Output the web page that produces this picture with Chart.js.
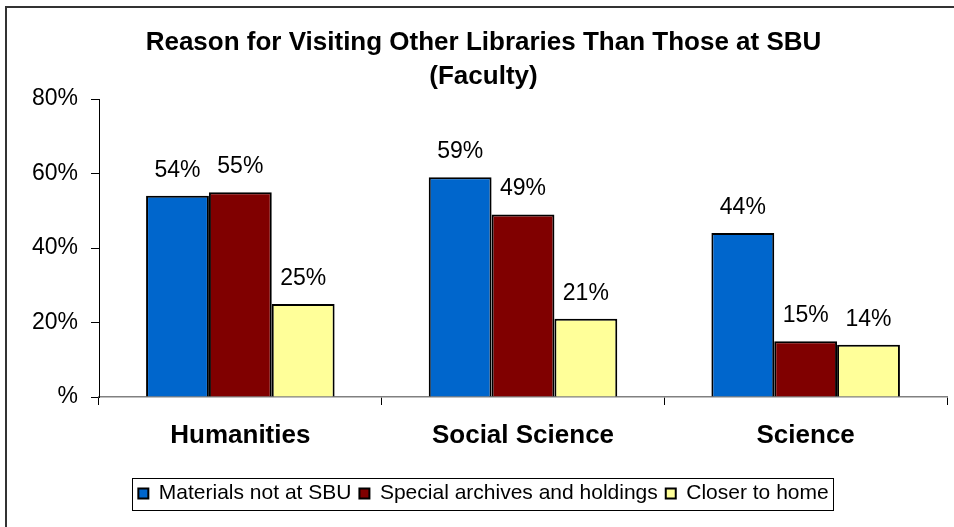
<!DOCTYPE html>
<html lang="en">

<head>
    <meta charset="UTF-8">
    <title>Reason for Visiting Other Libraries</title>
    <script src="https://cdn.jsdelivr.net/npm/chart.js"></script>
    <style>
        html, body { margin: 0; padding: 0; background: #fff; }
        #grafico { width: 954px; height: 527px; }
    </style>
</head>

<body>
    <div id="grafico">
        <canvas id="graficoMotivos"></canvas>
    </div>
</body>

</html>

<script>
    const categorias = ['Humanities', 'Social Science', 'Science'];
    const materiais = [54, 59, 44];
    const arquivos = [55, 49, 15];
    const perto = [25, 21, 14];
    const ticksY = [0, 20, 40, 60, 80];

    const fonte = 'Arial, "Liberation Sans"';

    // percentual acima de cada barra
    const rotulos = {
        id: 'rotulos',
        afterDatasetsDraw(chart) {
            const ctx = chart.ctx;
            ctx.save();
            ctx.font = '23px ' + fonte;
            ctx.fillStyle = '#000';
            ctx.textAlign = 'center';
            ctx.textBaseline = 'alphabetic';
            chart.data.datasets.forEach((ds, i) => {
                chart.getDatasetMeta(i).data.forEach((bar, j) => {
                    ctx.fillText(ds.data[j] + '%', bar.x, bar.y - 19);
                });
            });
            ctx.restore();
        }
    };

    // moldura externa e caixa da legenda
    const molduras = {
        id: 'molduras',
        afterDraw(chart) {
            const ctx = chart.ctx;
            ctx.save();
            ctx.strokeStyle = '#333';
            ctx.lineWidth = 2;
            ctx.beginPath();
            ctx.moveTo(6, 527);
            ctx.lineTo(6, 7);
            ctx.lineTo(954, 7);
            ctx.stroke();

            const caixas = chart.legend.legendHitBoxes;
            if (caixas && caixas.length) {
                const esq = Math.min(...caixas.map(b => b.left)) - 6;
                const dir = Math.max(...caixas.map(b => b.left + b.width)) + 5;
                ctx.lineWidth = 1;
                ctx.strokeStyle = '#000';
                ctx.strokeRect(Math.round(esq) + 0.5, 478.5, Math.round(dir - esq), 32);
            }
            ctx.restore();
        }
    };

    new Chart(document.getElementById('graficoMotivos').getContext('2d'), {
        type: 'bar',
        data: {
            labels: categorias,
            datasets: [
                { label: 'Materials not at SBU', data: materiais, backgroundColor: '#0066CC' },
                { label: 'Special archives and holdings', data: arquivos, backgroundColor: '#800000' },
                { label: 'Closer to home', data: perto, backgroundColor: '#FFFF99' }
            ].map(ds => Object.assign(ds, { borderColor: '#000', borderWidth: 2 }))
        },
        plugins: [rotulos, molduras],
        options: {
            responsive: true,
            maintainAspectRatio: false,
            animation: false,
            layout: { padding: { left: 20, right: 7, top: 0, bottom: 13 } },
            categoryPercentage: 0.667,
            barPercentage: 1,
            plugins: {
                title: {
                    display: true,
                    text: ['Reason for Visiting Other Libraries Than Those at SBU', '(Faculty)'],
                    color: '#000',
                    font: { family: fonte, size: 26, weight: 'bold', lineHeight: 34 / 26 },
                    padding: { top: 26, bottom: 5 }
                },
                legend: {
                    position: 'bottom',
                    labels: {
                        color: '#000',
                        font: { family: fonte, size: 21 },
                        boxWidth: 10,
                        boxHeight: 10,
                        padding: 8
                    }
                },
                tooltip: { enabled: false }
            },
            scales: {
                x: {
                    grid: { drawOnChartArea: false, tickLength: 8, color: '#000' },
                    border: { color: '#808080', width: 1.5 },
                    ticks: {
                        color: '#000',
                        padding: 15,
                        font: { family: fonte, size: 26, weight: 'bold' }
                    },
                    afterFit(scale) { scale.height = 78; }
                },
                y: {
                    min: 0,
                    max: 80,
                    grid: { drawOnChartArea: false, tickLength: 8, color: '#000' },
                    border: { color: '#000', width: 1 },
                    afterBuildTicks(scale) { scale.ticks = ticksY.map(v => ({ value: v })); },
                    ticks: {
                        color: '#000',
                        padding: 13,
                        font: { family: fonte, size: 23 },
                        callback: v => v === 0 ? '%' : v + '%'
                    },
                    afterFit(scale) { scale.width = 79; }
                }
            }
        }
    });
</script>
